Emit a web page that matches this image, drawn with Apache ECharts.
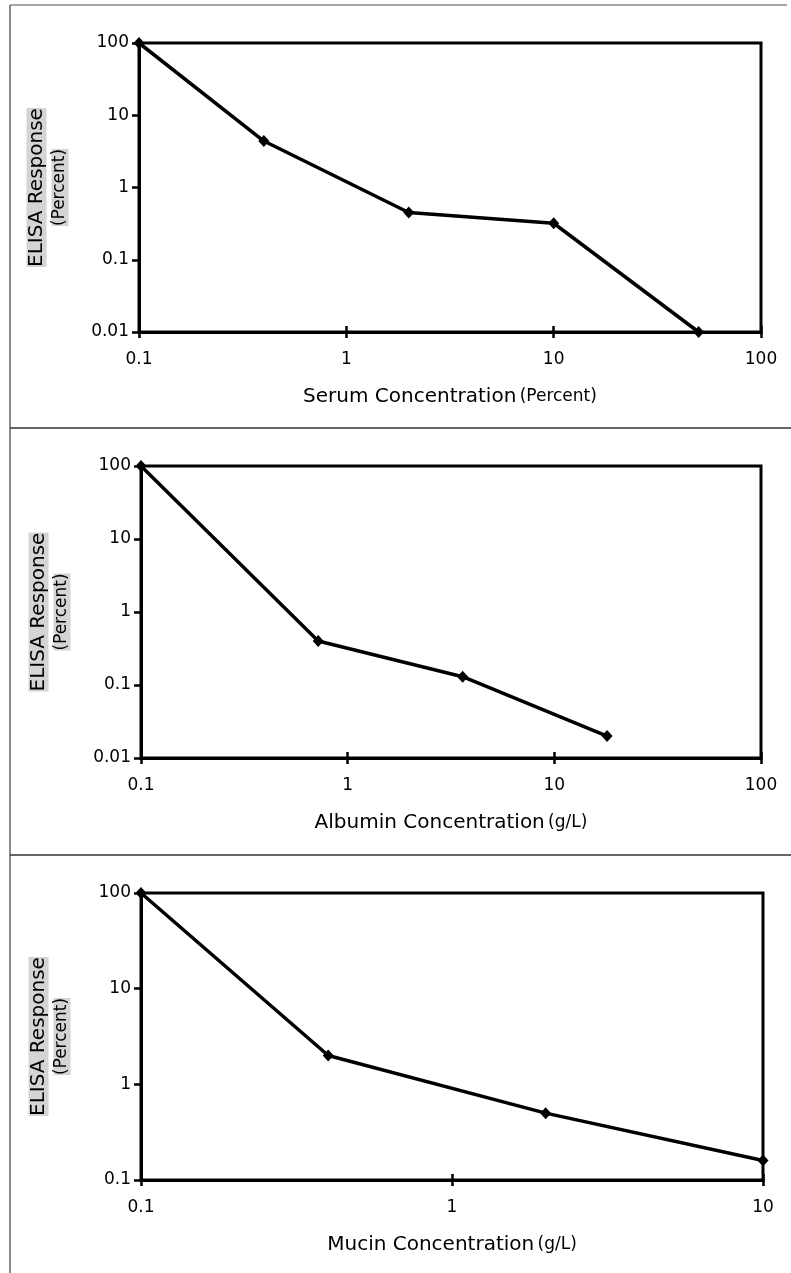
<!DOCTYPE html>
<html>
<head>
<meta charset="utf-8">
<script src="https://cdn.jsdelivr.net/npm/echarts@6/dist/echarts.min.js"></script>
<style>
  html, body { margin: 0; padding: 0; background: #fff; }
  #chart { width: 791px; height: 1273px; }
</style>
</head>
<body>
<div id="chart"></div>
<script>
// data
const serumX = [0.1, 0.4, 2, 10, 50];
const serumY = [100, 4.4, 0.45, 0.32, 0.01];
const albuminX = [0.1, 0.72, 3.6, 18];
const albuminY = [100, 0.4, 0.13, 0.02];
const mucinX = [0.1, 0.4, 2, 10];
const mucinY = [100, 2, 0.5, 0.16];

const xNames = ['Serum Concentration', 'Albumin Concentration', 'Mucin Concentration'];
const xUnits = ['(Percent)', '(g/L)', '(g/L)'];
const xRanges = [[0.1, 100], [0.1, 100], [0.1, 10]];
const yRanges = [[0.01, 100], [0.01, 100], [0.1, 100]];

const FONT = 'DejaVu Sans';

const grids = [
  { left: 139, top: 43, width: 622, height: 289 },
  { left: 141, top: 466, width: 620, height: 292 },
  { left: 141, top: 893, width: 622, height: 287 }
];

const fmt = v => String(parseFloat(Number(v).toPrecision(3)));

const xAxes = [];
const yAxes = [];
grids.forEach((g, i) => {
  xAxes.push({
    type: 'log', logBase: 10, gridIndex: i,
    min: xRanges[i][0], max: xRanges[i][1],
    name: '{a|' + xNames[i] + '} {b|' + xUnits[i] + '}',
    nameLocation: 'middle', nameGap: 55,
    nameTextStyle: {
      rich: {
        a: { fontFamily: FONT, fontSize: 20, color: '#000' },
        b: { fontFamily: FONT, fontSize: 17, color: '#000' }
      }
    },
    axisLine: { lineStyle: { color: '#000', width: 3 } },
    axisTick: { length: 6, lineStyle: { color: '#000', width: 2.5 } },
    axisLabel: { color: '#000', fontFamily: FONT, fontSize: 17, margin: 19, formatter: fmt },
    splitLine: { show: false },
    minorTick: { show: false }
  });
  // second axis, only for the inner half of the crossing ticks
  xAxes.push({
    type: 'log', logBase: 10, gridIndex: i, position: 'bottom', offset: 0,
    min: xRanges[i][0], max: xRanges[i][1],
    axisLine: { show: false },
    axisTick: { inside: true, length: 6, lineStyle: { color: '#000', width: 2.5 } },
    axisLabel: { show: false },
    splitLine: { show: false }
  });
  yAxes.push({
    type: 'log', logBase: 10, gridIndex: i,
    min: yRanges[i][0], max: yRanges[i][1],
    name: '{a|ELISA Response}\n{b|(Percent)}',
    nameLocation: 'middle', nameRotate: 90, nameGap: 68,
    nameTextStyle: {
      align: 'center',
      rich: {
        a: { fontFamily: FONT, fontSize: 20, color: '#000', backgroundColor: '#d4d4d4', lineHeight: 25 },
        b: { fontFamily: FONT, fontSize: 17, color: '#000', backgroundColor: '#d4d4d4', lineHeight: 22 }
      }
    },
    axisLine: { lineStyle: { color: '#000', width: 3 } },
    axisTick: { length: 7, lineStyle: { color: '#000', width: 2.5 } },
    axisLabel: { color: '#000', fontFamily: FONT, fontSize: 17, margin: 10, formatter: fmt },
    splitLine: { show: false }
  });
});

const makeSeries = (xs, ys, i) => ({
  type: 'line',
  xAxisIndex: i * 2,
  yAxisIndex: i,
  data: xs.map((x, k) => [x, ys[k]]),
  symbol: 'diamond',
  symbolSize: [11, 12],
  showSymbol: true,
  clip: false,
  lineStyle: { color: '#000', width: 3.5 },
  itemStyle: { color: '#000' },
  animation: false
});

const frameLine = (x1, y1, x2, y2, color) => ({
  type: 'line',
  shape: { x1, y1, x2, y2 },
  style: { stroke: color, lineWidth: 1.5 },
  silent: true
});

const myChart = echarts.init(document.getElementById('chart'));
myChart.setOption({
  backgroundColor: '#fff',
  animation: false,
  grid: grids.map(g => Object.assign({ show: true, borderColor: '#000', borderWidth: 3, backgroundColor: 'transparent' }, g)),
  xAxis: xAxes,
  yAxis: yAxes,
  series: [
    makeSeries(serumX, serumY, 0),
    makeSeries(albuminX, albuminY, 1),
    makeSeries(mucinX, mucinY, 2)
  ],
  graphic: [
    frameLine(10, 5, 787, 5, '#888'),
    frameLine(10, 5, 10, 1273, '#666'),
    frameLine(10, 428, 791, 428, '#333'),
    frameLine(10, 855, 791, 855, '#333')
  ]
});
</script>
</body>
</html>
